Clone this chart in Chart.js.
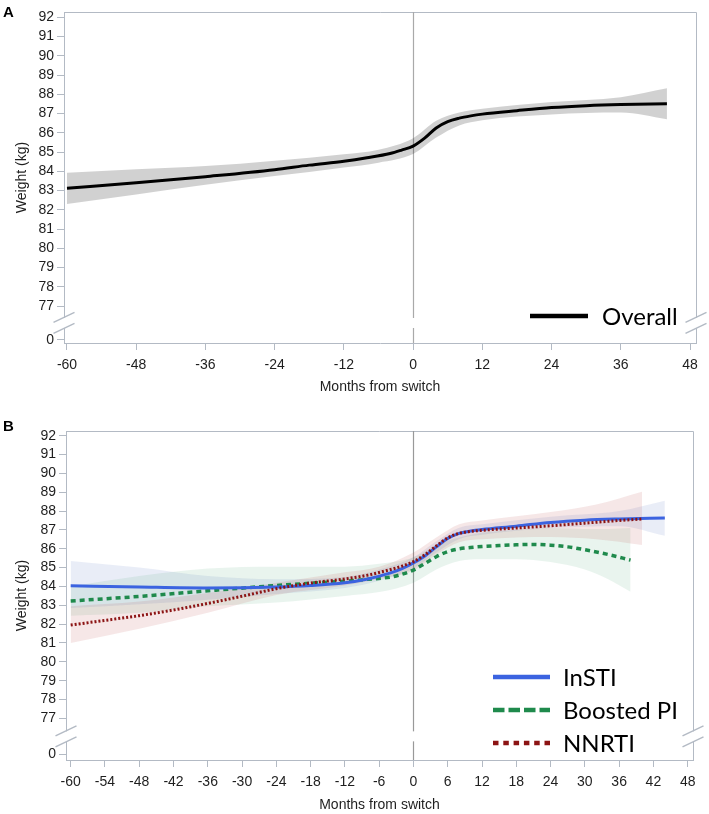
<!DOCTYPE html>
<html><head><meta charset="utf-8">
<script src="https://cdn.jsdelivr.net/npm/chart.js@4/dist/chart.umd.min.js"></script>
<style>
html,body{margin:0;padding:0;background:#fff;}
body{width:709px;height:814px;position:relative;overflow:hidden;}
.panel{position:absolute;left:0;width:709px;}
#wrapA{top:0;height:398px;}
#wrapB{top:398px;height:416px;}
.tag{position:absolute;left:3px;font:bold 15px "Liberation Sans",Arial,sans-serif;color:#000;line-height:17px;}
</style></head><body>
<div class="panel" id="wrapA"><canvas id="chartA" width="709" height="398"></canvas></div>
<div class="panel" id="wrapB"><canvas id="chartB" width="709" height="416"></canvas></div>
<div class="tag" style="top:3px">A</div>
<div class="tag" style="top:417px">B</div>
<script>
// ---------- data ----------
const panelTags = ['A', 'B'];
const seriesNames = ['Overall', 'InSTI', 'Boosted PI', 'NNRTI'];
const xTitle = 'Months from switch';
const yTitle = 'Weight (kg)';
const xTicksA = [-60, -48, -36, -24, -12, 0, 12, 24, 36, 48];
const xTicksB = [-60, -54, -48, -42, -36, -30, -24, -18, -12, -6, 0, 6, 12, 18, 24, 30, 36, 42, 48];
const yTickValues = [77, 78, 79, 80, 81, 82, 83, 84, 85, 86, 87, 88, 89, 90, 91, 92];
const yTickLabels = ['0', '77', '78', '79', '80', '81', '82', '83', '84', '85', '86', '87', '88', '89', '90', '91', '92'];

// Panel A: overall
const overallMonths = [-60, -48, -36, -24, -18, -12, -8, -4, -2, 0, 2, 4, 6, 8, 10, 12, 18, 24, 30, 36, 44];
const overallWeight = [83.12, 83.40, 83.72, 84.08, 84.32, 84.52, 84.70, 84.92, 85.10, 85.31, 85.72, 86.25, 86.58, 86.76, 86.88, 86.97, 87.15, 87.31, 87.41, 87.47, 87.51];
const overallBandMonths = [-60, -48, -36, -24, -12, -6, 0, 4, 8, 12, 24, 36, 44];
const overallUpper = [83.93, 84.10, 84.27, 84.55, 84.88, 85.12, 85.72, 86.62, 87.05, 87.25, 87.60, 87.85, 88.31];
const overallLower = [82.30, 82.80, 83.30, 83.75, 84.20, 84.45, 84.90, 85.75, 86.38, 86.65, 86.95, 87.05, 86.70];

// Panel B: InSTI
const instiMonths = [-60, -48, -36, -24, -18, -12, -8, -4, -2, 0, 2, 4, 6, 8, 10, 12, 18, 24, 30, 36, 44];
const instiWeight = [84.04, 83.97, 83.92, 83.97, 84.05, 84.20, 84.40, 84.72, 84.95, 85.25, 85.62, 86.10, 86.55, 86.82, 86.94, 87.02, 87.20, 87.40, 87.52, 87.58, 87.63];
const instiBandMonths = [-60, -48, -36, -24, -12, -6, 0, 4, 8, 12, 24, 36, 44];
const instiUpper = [85.35, 85.00, 84.55, 84.38, 84.50, 84.90, 85.55, 86.40, 87.12, 87.30, 87.70, 88.00, 88.55];
const instiLower = [82.85, 83.05, 83.30, 83.60, 83.92, 84.30, 84.95, 85.80, 86.52, 86.74, 87.10, 87.20, 86.69];

// Panel B: Boosted PI
const piMonths = [-60, -48, -36, -24, -18, -12, -8, -4, -2, 0, 2, 4, 6, 8, 10, 12, 15, 18, 21, 24, 27, 30, 34, 38];
const piWeight = [83.23, 83.47, 83.77, 84.05, 84.17, 84.28, 84.38, 84.50, 84.65, 84.87, 85.22, 85.58, 85.85, 86.00, 86.07, 86.12, 86.17, 86.21, 86.23, 86.19, 86.10, 85.95, 85.70, 85.40];
const piBandMonths = [-60, -48, -36, -24, -12, -6, 0, 4, 8, 12, 18, 24, 30, 34, 38];
const piUpper = [84.00, 84.55, 84.95, 85.05, 85.05, 85.20, 85.55, 86.20, 86.60, 86.85, 87.00, 87.10, 87.05, 87.05, 87.10];
const piLower = [82.45, 82.60, 82.95, 83.15, 83.50, 83.70, 84.20, 84.90, 85.35, 85.45, 85.45, 85.30, 84.90, 84.40, 83.72];

// Panel B: NNRTI
const nnrtiMonths = [-60, -54, -48, -42, -36, -30, -24, -18, -12, -8, -4, -2, 0, 2, 4, 6, 8, 10, 12, 18, 24, 30, 36, 40];
const nnrtiWeight = [81.95, 82.20, 82.45, 82.75, 83.10, 83.48, 83.88, 84.18, 84.40, 84.60, 84.90, 85.08, 85.32, 85.68, 86.15, 86.58, 86.82, 86.92, 86.98, 87.10, 87.22, 87.36, 87.50, 87.58];
const nnrtiBandMonths = [-60, -48, -36, -24, -12, -6, 0, 4, 8, 12, 24, 32, 40];
const nnrtiUpper = [82.95, 83.20, 83.65, 84.20, 84.75, 85.05, 85.80, 86.60, 87.30, 87.50, 87.95, 88.35, 89.03];
const nnrtiLower = [81.00, 81.75, 82.60, 83.55, 84.05, 84.40, 84.85, 85.70, 86.35, 86.50, 86.62, 86.50, 86.20];

// ---------- helpers ----------
const AXIS = '#b3bac4';
const TXT = '#1e1e1e';
const SANS = '"Liberation Sans", Arial, sans-serif';
const pts = (xs, ys) => xs.map((x, i) => ({x: x, y: ys[i]}));

function bandSets(months, lower, upper, fillColor) {
  return [
    {data: pts(months, lower), borderColor: 'transparent', borderWidth: 0, pointRadius: 0, fill: false, order: 10, cubicInterpolationMode: 'monotone'},
    {data: pts(months, upper), borderColor: 'transparent', borderWidth: 0, pointRadius: 0, fill: '-1', backgroundColor: fillColor, order: 10, cubicInterpolationMode: 'monotone'}
  ];
}
function lineSet(label, months, vals, color, width, dash, order) {
  return {label: label, data: pts(months, vals), borderColor: color, borderWidth: width, borderDash: dash,
    borderCapStyle: 'butt', pointRadius: 0, fill: false, order: order, cubicInterpolationMode: 'monotone'};
}

const decor = {
  id: 'decor',
  beforeDatasetsDraw(chart, args, o) {
    const {ctx, chartArea: a, scales: {x}} = chart;
    ctx.save();
    ctx.strokeStyle = AXIS; ctx.lineWidth = 1;
    ctx.beginPath();
    ctx.moveTo(a.left, a.top + 0.5); ctx.lineTo(a.right + 0.5, a.top + 0.5); ctx.lineTo(a.right + 0.5, a.bottom);
    ctx.stroke();
    const zx = Math.round(x.getPixelForValue(0)) + 0.5;
    ctx.strokeStyle = o.zeroColor; ctx.lineWidth = 1.2;
    ctx.beginPath(); ctx.moveTo(zx, a.top); ctx.lineTo(zx, a.bottom); ctx.stroke();
    ctx.restore();
  },
  afterDatasetsDraw(chart, args, o) {
    const {ctx, chartArea: a, scales: {y}} = chart;
    ctx.save();
    const y77 = y.getPixelForValue(77), y0 = y.getPixelForValue(o.zeroPos);
    const mid = (y77 + y0) / 2;
    ctx.fillStyle = '#fff';
    ctx.fillRect(a.left - 2, mid - 5, a.right - a.left + 4, 10);
    ctx.strokeStyle = AXIS; ctx.lineWidth = 1.4;
    [a.left, a.right].forEach(ax => {
      [mid - 5.5, mid + 5.5].forEach(yy => {
        ctx.beginPath(); ctx.moveTo(ax - 10.5, yy + 5); ctx.lineTo(ax + 10.5, yy - 5); ctx.stroke();
      });
    });
    // legend
    ctx.textBaseline = 'middle'; ctx.textAlign = 'left';
    ctx.font = '24px Lato, "Open Sans", sans-serif';
    o.legend.forEach(it => {
      const ds = chart.data.datasets[it.ds];
      ctx.strokeStyle = ds.borderColor; ctx.lineWidth = it.width;
      ctx.setLineDash(it.dash); ctx.lineCap = 'butt';
      ctx.beginPath(); ctx.moveTo(it.x1, it.y); ctx.lineTo(it.x2, it.y); ctx.stroke();
      ctx.setLineDash([]);
      ctx.fillStyle = '#000';
      ctx.fillText(ds.label, it.tx, it.y + 1);
    });
    ctx.restore();
  }
};

function makePanel(id, cfg) {
  const font = {family: SANS, size: 14};
  return new Chart(document.getElementById(id), {
    type: 'line',
    data: {datasets: cfg.datasets},
    options: {
      responsive: false, animation: false, events: [],
      layout: {padding: {top: cfg.top, right: cfg.rightPad, left: 0, bottom: 0}},
      plugins: {legend: {display: false}, tooltip: {enabled: false},
        decor: {zeroPos: cfg.zeroPos, zeroColor: cfg.zeroColor, legend: cfg.legend}},
      scales: {
        x: {
          type: 'linear', min: cfg.xMin, max: cfg.xMax,
          afterBuildTicks: s => { s.ticks = cfg.xTicks.map(v => ({value: v})); },
          afterFit: s => { s.height = cfg.xh; },
          ticks: {font: font, color: TXT, padding: 7, autoSkip: false, maxRotation: 0, callback: v => String(v)},
          grid: {display: true, drawOnChartArea: false, drawTicks: true, tickLength: 7, color: AXIS},
          border: {display: true, color: AXIS, width: 1},
          title: {display: true, text: xTitle, font: font, color: TXT, padding: {top: 0, bottom: cfg.xTitlePad}}
        },
        y: {
          type: 'linear', min: cfg.yMin, max: cfg.yMax,
          afterBuildTicks: s => { s.ticks = [{value: cfg.zeroPos}].concat(yTickValues.map(v => ({value: v}))); },
          afterFit: s => { s.width = cfg.left; },
          ticks: {font: font, color: TXT, padding: 3, autoSkip: false, callback: (v, i) => yTickLabels[i]},
          grid: {display: true, drawOnChartArea: false, drawTicks: true, tickLength: 7, color: AXIS},
          border: {display: true, color: AXIS, width: 1},
          title: {display: true, text: yTitle, font: font, color: TXT, padding: {top: 14, bottom: 0}}
        }
      }
    },
    plugins: [decor]
  });
}

// Panel A
makePanel('chartA', {
  datasets: [
    ...bandSets(overallBandMonths, overallLower, overallUpper, 'rgba(0,0,0,0.18)'),
    lineSet(seriesNames[0], overallMonths, overallWeight, '#000000', 3, [], 0)
  ],
  top: 12, rightPad: 13, left: 64, xh: 55, xTitlePad: 2,
  xMin: -60.52, xMax: 49.04, xTicks: xTicksA,
  yMin: 75.08, yMax: 92.275, zeroPos: 75.24, zeroColor: '#a9a9a9',
  legend: [{ds: 2, x1: 530, x2: 588, y: 316, width: 4.5, dash: [], tx: 602}]
});

// Panel B (canvas starts at page y = 398)
makePanel('chartB', {
  datasets: [
    ...bandSets(nnrtiBandMonths, nnrtiLower, nnrtiUpper, 'rgba(185,55,55,0.12)'),
    ...bandSets(piBandMonths, piLower, piUpper, 'rgba(40,150,90,0.10)'),
    ...bandSets(instiBandMonths, instiLower, instiUpper, 'rgba(70,105,190,0.12)'),
    lineSet(seriesNames[1], instiMonths, instiWeight, '#3b63e0', 3, [], 1),
    lineSet(seriesNames[2], piMonths, piWeight, '#1f8a4c', 3.5, [5, 4], 2),
    lineSet(seriesNames[3], nnrtiMonths, nnrtiWeight, '#8c1414', 3, [2, 2], 0)
  ],
  top: 33, rightPad: 16, left: 66, xh: 54, xTitlePad: 0,
  xMin: -60.82, xMax: 48.93, xTicks: xTicksB,
  yMin: 74.79, yMax: 92.25, zeroPos: 75.09, zeroColor: '#999999',
  legend: [
    {ds: 6, x1: 493, x2: 550, y: 279, width: 4.3, dash: [], tx: 563},
    {ds: 7, x1: 493, x2: 550, y: 312, width: 4.5, dash: [11.5, 4], tx: 563},
    {ds: 8, x1: 493, x2: 550, y: 345, width: 4.5, dash: [5.5, 4.8], tx: 563}
  ]
});
</script>
</body></html>
